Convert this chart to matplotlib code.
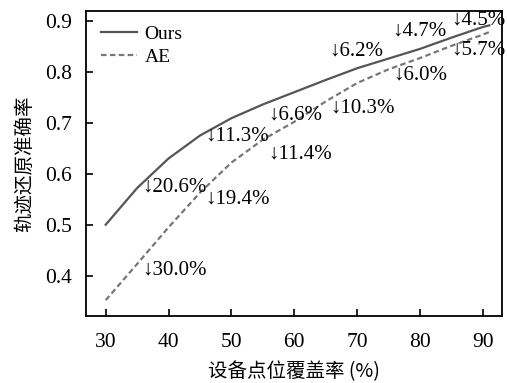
import matplotlib
matplotlib.use("Agg")
import matplotlib.pyplot as plt

# coverage (%) and accuracy
coverage = [30, 35, 40, 45, 50, 55, 60, 65, 70, 75, 80, 85, 90, 91]
ours = [0.500, 0.572, 0.630, 0.675, 0.709, 0.736, 0.760, 0.784, 0.807,
        0.826, 0.845, 0.867, 0.888, 0.891]
ae = [0.352, 0.423, 0.495, 0.563, 0.622, 0.667, 0.702, 0.742, 0.778,
      0.805, 0.827, 0.851, 0.873, 0.878]

# drop labels
ours_notes_x = [35.8, 45.8, 55.8, 65.5, 75.5, 84.9]
ours_notes_y = [0.574, 0.674, 0.715, 0.841, 0.880, 0.901]
ours_notes = ["20.6%", "11.3%", "6.6%", "6.2%", "4.7%", "4.5%"]
ae_notes_x = [35.8, 45.8, 55.8, 65.7, 75.7, 85.0]
ae_notes_y = [0.411, 0.550, 0.638, 0.729, 0.793, 0.843]
ae_notes = ["30.0%", "19.4%", "11.4%", "10.3%", "6.0%", "5.7%"]

serif = ["Liberation Serif", "DejaVu Serif"]
cjk = ["Noto Sans CJK SC", "DejaVu Sans"]

fig = plt.figure(figsize=(5.07, 3.83), dpi=100)
ax = fig.add_axes([0.170, 0.175, 0.820, 0.796])

ax.plot(coverage, ours, '-', color='#555555', linewidth=1.6, label='Ours')
ax.plot(coverage, ae, '--', color='#777777', linewidth=1.6, label='AE',
        dashes=(2.5, 1.5))

for x, y, t in zip(ours_notes_x, ours_notes_y, ours_notes):
    ax.text(x, y, "\u2193" + t, family=serif, fontsize=15, va='center', ha='left')
for x, y, t in zip(ae_notes_x, ae_notes_y, ae_notes):
    ax.text(x, y, "\u2193" + t, family=serif, fontsize=15, va='center', ha='left')

ax.set_xlim(26.9, 93.0)
ax.set_ylim(0.321, 0.919)
ax.set_xticks([30, 40, 50, 60, 70, 80, 90])
ax.set_yticks([0.4, 0.5, 0.6, 0.7, 0.8, 0.9])
ax.tick_params(direction='in', length=5, width=1.2, labelsize=15.5)
ax.tick_params(axis='x', pad=12)
ax.tick_params(axis='y', pad=10)
for lab in ax.get_xticklabels() + ax.get_yticklabels():
    lab.set_family(serif)
for s in ax.spines.values():
    s.set_linewidth(1.3)

ax.set_xlabel("设备点位覆盖率 (%)", family=cjk, fontsize=14, labelpad=7)
ax.set_ylabel("轨迹还原准确率", family=cjk, fontsize=14, labelpad=7)

leg = ax.legend(loc='upper left', frameon=False, prop={'family': serif, 'size': 14},
                handlelength=1.85, handletextpad=0.4, borderaxespad=0.35, labelspacing=0.25)

fig.savefig("out.png", dpi=100)
